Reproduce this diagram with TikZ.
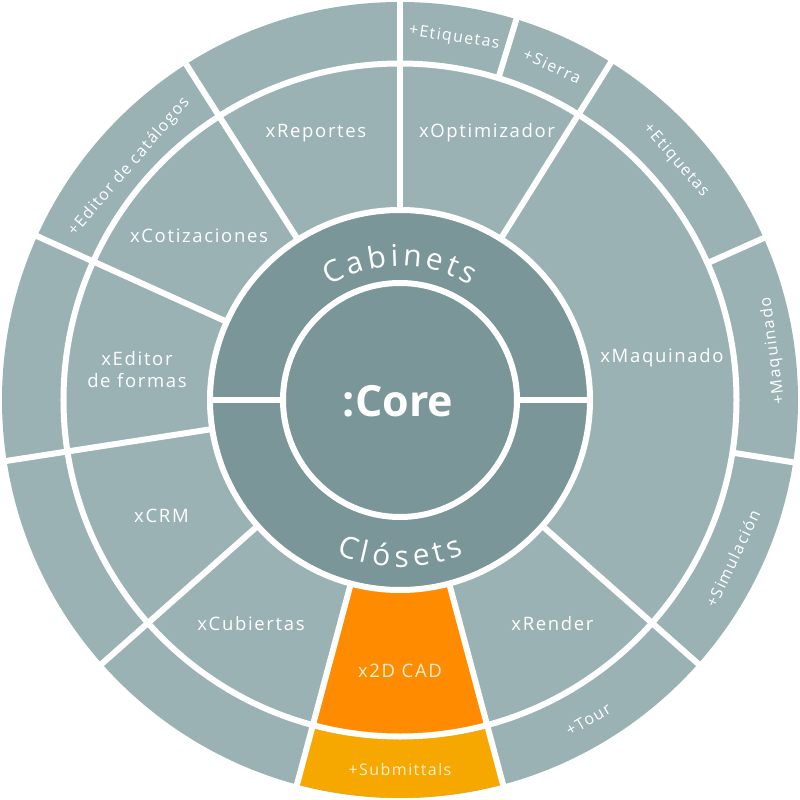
\documentclass[tikz,border=0pt]{standalone}
\usepackage{fontspec}
\setmainfont{Open Sans}[LetterSpace=9]
\newfontfamily\plainfont{Open Sans}
\definecolor{ringlight}{HTML}{9BB2B5}
\definecolor{ringdark}{HTML}{7A9698}
\definecolor{cadorange}{HTML}{FF8C00}
\definecolor{subyellow}{HTML}{F7A800}
\definecolor{creamtext}{HTML}{FFF0D2}
\newcommand\rwfont{\plainfont\fontsize{30}{30}\selectfont}
% #1 letter/width pairs, #2 center angle, #3 baseline radius, #4 spacing radius, #5 gap, #6 sign (+1 top, -1 bottom), #7 name prefix
\newcommand\ringword[7]{%
  \xdef\rwtotal{0}%
  \foreach \ch/\w in {#1}{%
    \pgfmathsetmacro\rwtmp{\rwtotal+\w+#5}%
    \xdef\rwtotal{\rwtmp}%
  }%
  \pgfmathsetmacro\rwtmp{\rwtotal-#5}\xdef\rwtotal{\rwtmp}%
  \xdef\rwpos{0}%
  \foreach \ch/\w [count=\k] in {#1}{%
    \pgfmathsetmacro\rwoff{\rwpos+\w/2-\rwtotal/2}%
    \pgfmathsetmacro\rwang{#2-(#6)*\rwoff/#4*57.29578}%
    \node[arcletter, rotate={\rwang-(#6)*90}] (#7\k) at (\rwang:#3) {\ch};
    \pgfmathsetmacro\rwtmp{\rwpos+\w+#5}%
    \xdef\rwpos{\rwtmp}%
  }%
}
\begin{document}
\begin{tikzpicture}[x=1pt,y=1pt,
  sep/.style={white, line width=6pt},
  modlabel/.style={text=white, font=\fontsize{18.5}{22}\selectfont, inner sep=0pt, align=center},
  outlabel/.style={text=white, font=\fontsize{16}{18}\selectfont, inner sep=0pt, text height=11.4pt, text depth=0pt},
  arcletter/.style={text=white, font=\rwfont, inner sep=0pt, anchor=base}
]
\useasboundingbox (-400,-400) rectangle (400,400);
% rings
\fill[ringlight] (0,0) circle[radius=398];
\fill[subyellow] (-105:336) arc[start angle=-105,end angle=-75,radius=336] -- (-75:398) arc[start angle=-75,end angle=-105,radius=398] -- cycle;
\fill[cadorange] (-105:190) arc[start angle=-105,end angle=-75,radius=190] -- (-75:336) arc[start angle=-75,end angle=-105,radius=336] -- cycle;
\fill[ringdark] (0,0) circle[radius=190];
% separators
\draw[sep] (0,0) circle[radius=117];
\draw[sep] (0,0) circle[radius=190];
\draw[sep] (0,0) circle[radius=336.5];
\draw[sep] (0:117) -- (0:190);
\draw[sep] (180:117) -- (180:190);
\foreach \a in {90,58,-41.5,-75,-105,221.5,188.8,155.7,122.5}
  \draw[sep] (\a:190) -- (\a:399);
\foreach \a in {73,24,-9}
  \draw[sep] (\a:336.5) -- (\a:399);
% core
\node[text=white, inner sep=0pt, font=\plainfont\bfseries\fontsize{43}{43}\selectfont] (core) at (-2,-1) {:Core};
% curved ring labels
\ringword{C/19.0, a/16.7, b/18.4, i/7.6, n/18.4, e/16.8, t/10.4, s/14.3}{90}{134}{143}{5}{1}{cab}
\ringword{C/19.0, l/7.6, ó/18.1, s/14.3, e/16.8, t/10.4, s/14.3}{-90}{167}{157}{4}{-1}{clo}
% module labels
\node[modlabel, anchor=base] (rep) at (-84,262) {xReportes};
\node[modlabel, anchor=base] (opt) at (87,262) {xOptimizador};
\node[modlabel, anchor=base] (cot) at (-201,157) {xCotizaciones};
\node[modlabel] (edf) at (-263,30.5) {xEditor\\de formas};
\node[modlabel, anchor=base] (maq) at (262,37) {xMaquinado};
\node[modlabel, anchor=base] (crm) at (-238.5,-122) {xCRM};
\node[modlabel, anchor=base] (cub) at (-149,-230) {xCubiertas};
\node[modlabel, anchor=base, text=creamtext] (cad) at (0,-277) {x2D CAD};
\node[modlabel, anchor=base] (ren) at (152.5,-230) {xRender};
% outer labels
\node[outlabel, rotate=-8.5] (eti1) at (81.5:368) {+Etiquetas};
\node[outlabel, rotate=-24.5] (sie) at (65.5:367) {+Sierra};
\node[outlabel, rotate=-49] (eti2) at (41:367) {+Etiquetas};
\node[outlabel, rotate=97.5] (maq2) at (7.5:375) {+Maquinado};
\node[outlabel, rotate=64.5] (sim) at (-25.5:369) {+Simulación};
\node[outlabel, rotate=30.5] (tour) at (-59.5:371) {+Tour};
\node[outlabel, text=creamtext] (sub) at (-90:370) {+Submittals};
\node[outlabel, rotate=49.25] (edc) at (139.25:359) {+Editor de catálogos};
\end{tikzpicture}
\end{document}
